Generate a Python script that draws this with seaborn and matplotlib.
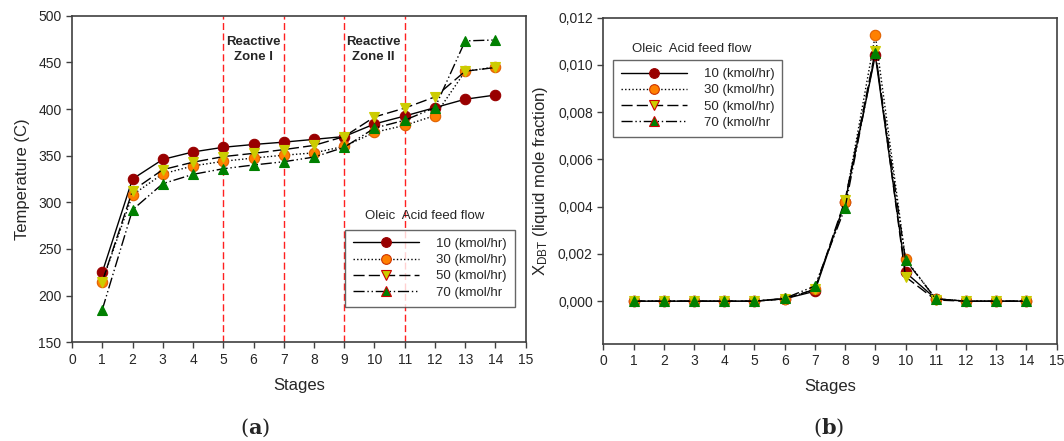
import matplotlib
matplotlib.use("Agg")
import matplotlib.pyplot as plt
import seaborn as sns
import pandas as pd
import numpy as np
from matplotlib.ticker import FuncFormatter, MultipleLocator

sns.set_style("ticks")
plt.rcParams['font.family'] = ['Liberation Sans', 'DejaVu Sans']
plt.rcParams['mathtext.fontset'] = 'dejavuserif'

stages = list(range(1, 15))
series_labels = ["10 (kmol/hr)", "30 (kmol/hr)", "50 (kmol/hr)", "70 (kmol/hr"]

temp_10 = [225, 325, 346, 354, 359, 362, 364.5, 367.5, 370.5, 384, 392.5, 401.5, 410.5, 415]
temp_30 = [215, 308, 330.5, 339, 344, 347.5, 350.5, 353, 360, 375, 382.5, 393, 440.5, 445]
temp_50 = [215, 312.5, 335, 343, 349, 352.5, 356.5, 361, 370.5, 391.5, 401, 413, 440.5, 444.5]
temp_70 = [185, 292, 320, 330, 336, 340, 343.5, 348.5, 359, 379.5, 388, 401.5, 473, 474]

x_10 = [0, 0, 0, 0, 0, 0.0001, 0.00042, 0.0042, 0.0104, 0.00122, 0.0001, 0, 0, 0]
x_30 = [0, 0, 0, 0, 0, 0.0001, 0.0005, 0.00418, 0.01126, 0.00178, 0.0001, 0, 0, 0]
x_50 = [0, 0, 0, 0, 0, 0.0001, 0.0005, 0.00428, 0.01059, 0.00103, 0.00005, 0, 0, 0]
x_70 = [0, 0, 0, 0, 0, 0.00012, 0.00064, 0.00395, 0.01052, 0.00174, 0.0001, 0, 0, 0]

zone_lines = [5, 7, 9, 11]

styles = [
    dict(color="black", ls="-", marker="o", mfc="#990000", mec="#990000"),
    dict(color="black", ls=(0, (1, 1.6)), marker="o", mfc="#FF8000", mec="#E06000"),
    dict(color="black", ls=(0, (8, 3)), marker="v", mfc="#CCCC00", mec="#CCCC00"),
    dict(color="black", ls=(0, (8, 2, 1, 2, 1, 2)), marker="^", mfc="#008000", mec="#008000"),
]
leg_edges = ["#990000", "#CC3300", "#CC0000", "#CC0000"]

fig = plt.figure(figsize=(10.64, 4.41), dpi=100)
axA = fig.add_axes([0.0677, 0.2238, 0.4264, 0.7406])
axB = fig.add_axes([0.567, 0.2206, 0.4261, 0.7394])

def draw(ax, data_lists):
    handles = []
    for lab, vals, st, le in zip(series_labels, data_lists, styles, leg_edges):
        df = pd.DataFrame({"stage": stages, "val": vals})
        sns.lineplot(data=df, x="stage", y="val", ax=ax, color=st["color"],
                     linestyle=st["ls"], lw=1.0, marker=st["marker"], markersize=7.5,
                     markerfacecolor=st["mfc"], markeredgecolor=st["mec"],
                     markeredgewidth=0.8, label=lab, legend=False)
        h = plt.Line2D([], [], color="black", linestyle=st["ls"], lw=1.0,
                       marker=st["marker"], markersize=7, markerfacecolor=st["mfc"],
                       markeredgecolor=le, markeredgewidth=0.8)
        handles.append(h)
    return handles

hA = draw(axA, [temp_10, temp_30, temp_50, temp_70])
hB = draw(axB, [x_10, x_30, x_50, x_70])

for xv in zone_lines:
    axA.axvline(xv, color="#FF2020", ls=(0, (5, 2.5)), lw=1.0, zorder=1)

axA.text(6.0, 464, "Reactive\nZone I", ha="center", va="center", fontsize=9.5,
         fontweight="bold", linespacing=1.3)
axA.text(9.95, 464, "Reactive\nZone II", ha="center", va="center", fontsize=9.5,
         fontweight="bold", linespacing=1.3)

for ax in (axA, axB):
    ax.set_xlim(0, 15)
    ax.xaxis.set_major_locator(MultipleLocator(1))
    ax.tick_params(labelsize=10, direction="out", length=4, width=1, color="#404040")
    for s in ax.spines.values():
        s.set_color("#404040")
        s.set_linewidth(1.2)
    ax.set_xlabel("Stages", fontsize=12, labelpad=8)

axA.set_ylim(150, 500)
axA.yaxis.set_major_locator(MultipleLocator(50))
axA.set_ylabel("Temperature (C)", fontsize=12, labelpad=6)

axB.set_ylim(-0.0018, 0.012)
axB.set_yticks([0, 0.002, 0.004, 0.006, 0.008, 0.010, 0.012])
axB.yaxis.set_major_formatter(FuncFormatter(lambda v, p: f"{v:.3f}".replace(".", ",")))
axB.set_ylabel(r"X$_{\mathregular{DBT}}$ (liquid mole fraction)", fontsize=12, labelpad=6)

legkw = dict(frameon=True, fancybox=False, edgecolor="#404040", fontsize=9.5,
             handlelength=5.0, handletextpad=1.3, labelspacing=0.3,
             borderpad=0.6, borderaxespad=0)
lgA = axA.legend(hA, series_labels, loc="upper left", bbox_to_anchor=(0.602, 0.344), **legkw)
lgA.get_frame().set_linewidth(1.0)
axA.text(0.778, 0.387, "Oleic  Acid feed flow", transform=axA.transAxes, ha="center",
         va="center", fontsize=9.5)
lgB = axB.legend(hB, series_labels, loc="upper left", bbox_to_anchor=(0.021, 0.870), **legkw)
lgB.get_frame().set_linewidth(1.0)
axB.text(0.195, 0.905, "Oleic  Acid feed flow", transform=axB.transAxes, ha="center",
         va="center", fontsize=9.5)

fig.text(255 / 1064, 1 - 428 / 441, r"($\mathbf{a}$)", fontsize=15, family="DejaVu Serif",
         ha="center", va="center")
fig.text(829 / 1064, 1 - 428 / 441, r"($\mathbf{b}$)", fontsize=15, family="DejaVu Serif",
         ha="center", va="center")

fig.savefig("out.png", dpi=100)
